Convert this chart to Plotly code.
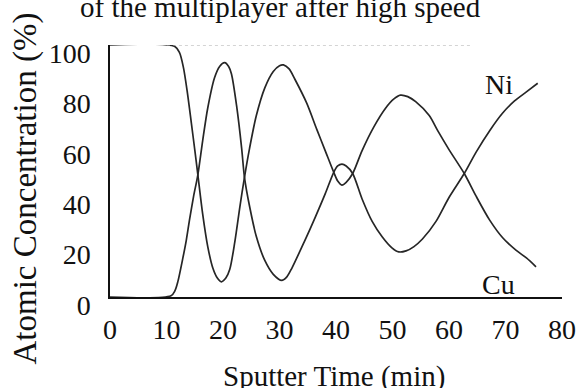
import plotly.graph_objects as go

# Cu depth profile (sputter time in min, atomic concentration %)
cu_time = [0, 11.4, 12.3, 13.0, 13.7, 14.4, 15.0, 15.55, 16.4, 17.3, 18.2, 19.0, 19.7,
           20.5, 21.2, 22.1, 23.0, 23.8, 24.7, 25.9, 27.4, 28.9, 30.0, 30.7,
           31.7, 32.7, 34.8, 36.6, 38.1, 39.6, 40.3, 41.05,
           41.8, 42.95, 44.6, 46.7, 48.8, 50.2, 51.4,
           52.7, 54.1, 56.5, 58.0, 60.0, 62.7, 64.8, 67.2, 69.5, 71.9, 73.7, 75.4]
cu_conc = [100, 99.5, 97, 91, 81, 69, 58.5, 48.5, 33, 20, 11.5, 7.5, 6.0,
           7.5, 11, 22, 36, 47.5, 59, 72, 83, 89.5, 91.8, 92.1,
           90.5, 86.5, 77, 66.5, 58, 49.5, 46, 44.4,
           45.5, 49, 58, 67.5, 75, 78.5, 80.1,
           79.5, 77.5, 72, 66, 58.5, 49, 40, 30.5, 23.5, 18.5, 15.5, 12]

# Ni depth profile
ni_time = [0, 10.8, 11.5, 12.0, 12.9, 13.5, 14.1, 14.8, 15.55, 16.4, 17.3, 18.5, 19.4, 20.3,
           21.0, 21.5, 22.4, 23.3, 23.8, 24.7, 25.9, 27.4, 28.9, 30.4,
           31.3, 32.2, 34.5, 36.3, 38.1, 39.6, 40.3, 41.05,
           41.8, 42.95, 44.6, 46.4, 48.2, 49.9, 51.1,
           52.4, 53.8, 55.3, 57.7, 60.0, 62.7, 64.8, 67.2, 69.5, 71.6, 73.7, 75.7]
ni_conc = [0, 0.5, 2.5, 6, 15.5, 22.5, 31, 40, 48.5, 62, 75, 87, 91.5, 93,
           91.5, 88.5, 76, 59, 47.5, 36, 24, 14.5, 9, 6.6,
           8, 11.5, 22.5, 31.5, 41, 49.5, 52, 52.7,
           52, 49, 39, 30, 23.8, 19.5, 17.9,
           18.3, 20, 23, 30, 39.5, 49, 57.5, 66, 73, 77.8, 81.4, 84.8]

x_ticks = [0, 10, 20, 30, 40, 50, 60, 70, 80]
y_ticks = [0, 20, 40, 60, 80, 100]

title_text = "of the multiplayer after high speed"
x_title = "Sputter Time (min)"
y_title = "Atomic Concentration (%)"

FONT = "Liberation Serif"
LINE = "#262626"
TXT = "#111111"

fig = go.Figure()
fig.add_trace(go.Scatter(x=cu_time, y=cu_conc, mode="lines", name="Cu",
                         line=dict(color=LINE, width=1.7, shape="spline", smoothing=0.8)))
fig.add_trace(go.Scatter(x=ni_time, y=ni_conc, mode="lines", name="Ni",
                         line=dict(color=LINE, width=1.7, shape="spline", smoothing=0.8)))

fig.update_layout(
    width=582, height=388,
    margin=dict(l=110, r=20, t=45, b=91),
    paper_bgcolor="white", plot_bgcolor="white",
    showlegend=False,
    font=dict(family=FONT, color=TXT, size=28),
    xaxis=dict(range=[0, 80], tickvals=x_ticks, showgrid=False, zeroline=False,
               automargin=False,
               showline=True, linecolor=TXT, linewidth=1.5,
               ticks="outside", ticklen=7, tickcolor="rgba(0,0,0,0)",
               tickfont=dict(family=FONT, size=28, color=TXT)),
    yaxis=dict(range=[0, 100], tickvals=y_ticks, showgrid=False, zeroline=False,
               automargin=False,
               showline=True, linecolor=TXT, linewidth=1.5,
               ticks="outside", ticklen=12, tickcolor="rgba(0,0,0,0)",
               ticklabelshift=8,
               tickfont=dict(family=FONT, size=28, color=TXT)),
)

fig.add_annotation(text=title_text, xref="paper", yref="paper",
                   x=(280 - 110) / 452, y=(297 - 7) / 252, xanchor="center", yanchor="middle",
                   showarrow=False, font=dict(family=FONT, size=29, color=TXT))
fig.add_annotation(text=x_title, xref="paper", yref="paper",
                   x=(334 - 110) / 452, y=(297 - 376) / 252, xanchor="center", yanchor="middle",
                   showarrow=False, font=dict(family=FONT, size=29, color=TXT))
fig.add_annotation(text=y_title, xref="paper", yref="paper", textangle=-90,
                   x=(25 - 110) / 452, y=(297 - 188.5) / 252, xanchor="center", yanchor="middle",
                   showarrow=False, font=dict(family=FONT, size=33, color=TXT))
fig.add_annotation(text="Ni", x=68.9, y=84.5, xanchor="center", yanchor="middle",
                   showarrow=False, font=dict(family=FONT, size=28, color=TXT))
fig.add_annotation(text="Cu", x=68.8, y=5, xanchor="center", yanchor="middle",
                   showarrow=False, font=dict(family=FONT, size=28, color=TXT))

# faint scanned top frame
fig.add_shape(type="line", xref="paper", yref="y", x0=0.126, x1=0.80, y0=100, y1=100,
              line=dict(color="#aaaaaa", width=1, dash="dot"))

# remove the default page margin so the figure sits at the window's top-left corner
fig.write_html("out.html", config={"displayModeBar": False},
               post_script="document.body.style.margin='0';document.body.style.padding='0';")
